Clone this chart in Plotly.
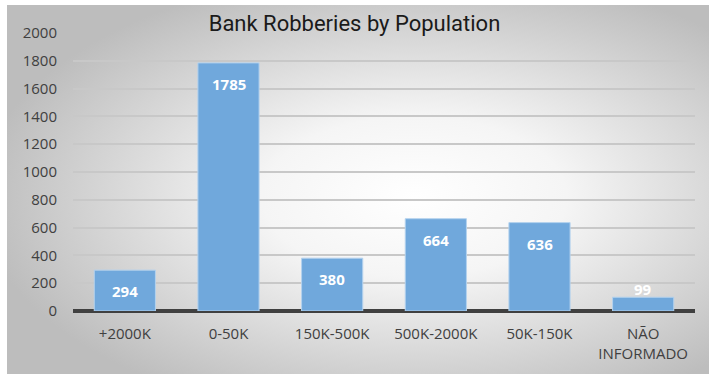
import plotly.graph_objects as go
import urllib.parse

categories = ["+2000K", "0-50K", "150K-500K", "500K-2000K", "50K-150K", "NÃO<br>INFORMADO"]
values = [294, 1785, 380, 664, 636, 99]
y_ticks = [0, 200, 400, 600, 800, 1000, 1200, 1400, 1600, 1800, 2000]
title_text = "Bank Robberies by Population"

svg = (
    "<svg xmlns='http://www.w3.org/2000/svg' width='700' height='370' preserveAspectRatio='none'>"
    "<defs><radialGradient id='g' cx='0.58' cy='0.52' r='0.62'>"
    "<stop offset='0' stop-color='#ffffff'/>"
    "<stop offset='0.35' stop-color='#f5f5f5'/>"
    "<stop offset='1' stop-color='#bdbdbd'/>"
    "</radialGradient></defs>"
    "<rect width='700' height='370' fill='url(#g)'/></svg>"
)
bg_uri = "data:image/svg+xml;charset=utf-8," + urllib.parse.quote(svg)

fig = go.Figure()
fig.add_trace(go.Bar(
    x=categories,
    y=values,
    marker=dict(color="#70a8dc", line=dict(color="#b4d2ee", width=1)),
    hoverinfo="x+y",
))

label_font = dict(family="Open Sans", size=15, color="white", weight="bold")
for c, v in zip(categories, values):
    if v > 200:
        fig.add_annotation(x=c, y=v, text=str(v), showarrow=False,
                           yanchor="top", yshift=-9, font=label_font)
    else:
        fig.add_annotation(x=c, y=v, text=str(v), showarrow=False,
                           yanchor="bottom", yshift=-4, font=label_font)

L, R, T, B = 73, 14, 33, 64
W, H = 709, 375
pw, ph = W - L - R, H - T - B
px0, px1, py0, py1 = 7, 709, 5, 374
fig.add_layout_image(dict(
    source=bg_uri, xref="paper", yref="paper",
    x=(px0 - L) / pw, y=(H - B - py0) / ph,
    sizex=(px1 - px0) / pw, sizey=(py1 - py0) / ph,
    sizing="stretch", xanchor="left", yanchor="top", layer="below",
))

fig.update_layout(
    width=W, height=H,
    margin=dict(l=L, r=R, t=T, b=B),
    paper_bgcolor="white",
    plot_bgcolor="rgba(0,0,0,0)",
    bargap=0.41,
    showlegend=False,
    title=dict(text=title_text, x=0.5, xanchor="center", y=(H - 23) / H, yanchor="middle",
               font=dict(family="Roboto", size=22, color="#1a1a1a")),
    xaxis=dict(
        tickfont=dict(family="Open Sans", size=15, color="#404040"),
        showgrid=False, showline=False, ticks="", ticklabelstandoff=12,
    ),
    yaxis=dict(
        range=[0, 2000], tickvals=y_ticks,
        tickfont=dict(family="Open Sans", size=15, color="#404040"),
        showgrid=True, gridcolor="#c8c8c8", gridwidth=2,
        zeroline=True, zerolinecolor="#404040", zerolinewidth=4,
        ticks="", ticklabelstandoff=15,
    ),
)

fig.write_html("out.html", config={"displayModeBar": False},
               post_script="document.body.style.margin='0';")
